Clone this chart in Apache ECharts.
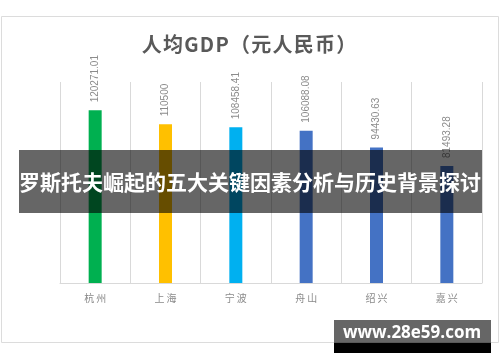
<!DOCTYPE html>
<html>
<head>
<meta charset="utf-8">
<script src="https://cdn.jsdelivr.net/npm/echarts@6/dist/echarts.min.js"></script>
<style>
html,body{margin:0;padding:0;background:#fff;}
#c{width:500px;height:362px;}
</style>
</head>
<body>
<div id="c"></div>
<script>
const categories = ['杭州', '上海', '宁波', '舟山', '绍兴', '嘉兴'];
const gdpValues = [120271.01, 110500, 108458.41, 106088.08, 94430.63, 81493.28];
const valueLabels = ['120271.01', '110500', '108458.41', '106088.08', '94430.63', '81493.28'];
const barColors = ['#00B050', '#FFC000', '#00B0F0', '#4472C4', '#4472C4', '#4472C4'];
const titleText = '人均GDP（元人民币）';
const bannerText = '罗斯托夫崛起的五大关键因素分析与历史背景探讨';
const watermarkText = 'www.28e59.com';

const chart = echarts.init(document.getElementById('c'), null, {renderer: 'canvas'});
const FONT = '"Noto Sans CJK SC", "Noto Sans", sans-serif';

chart.setOption({
  animation: false,
  backgroundColor: '#ffffff',
  title: {
    text: titleText.split('').join('\u200A'),
    left: 244,
    top: 29,
    textAlign: 'center',
    textStyle: {fontFamily: FONT, fontSize: 20, fontWeight: 'bold', color: '#595959'}
  },
  grid: {left: 60, right: 18, top: 82, bottom: 79},
  xAxis: {
    type: 'category',
    data: categories,
    boundaryGap: true,
    axisLine: {show: true, lineStyle: {color: '#d9d9d9', width: 1}},
    axisTick: {show: false},
    splitLine: {show: true, lineStyle: {color: '#d9d9d9', width: 1}},
    axisLabel: {
      margin: 10,
      fontFamily: FONT,
      fontSize: 10,
      color: '#8a8a8a',
      formatter: v => v.split('').join('\u2009')
    }
  },
  yAxis: {
    type: 'value',
    min: 0,
    max: 140000,
    show: false,
    splitLine: {show: false}
  },
  series: [{
    type: 'bar',
    barWidth: 13,
    data: gdpValues.map((v, i) => ({value: v, itemStyle: {color: barColors[i]}})),
    label: {
      show: true,
      position: 'top',
      rotate: 90,
      align: 'left',
      verticalAlign: 'middle',
      distance: 8,
      fontFamily: '"Liberation Sans", Arial, sans-serif',
      fontSize: 10,
      color: '#8c8c8c',
      formatter: p => valueLabels[p.dataIndex]
    }
  }],
  graphic: [
    {
      type: 'rect', silent: true, z: 0,
      shape: {x: 1.5, y: 16.5, width: 497, height: 326},
      style: {fill: 'none', stroke: '#dcdcdc', lineWidth: 1}
    },
    {
      type: 'rect', z: 100,
      shape: {x: 19, y: 150, width: 463, height: 63},
      style: {fill: 'rgba(0,0,0,0.6)'}
    },
    {
      type: 'text', z: 101,
      x: 250, y: 182,
      style: {
        text: bannerText,
        fill: '#ffffff',
        font: 'bold 21px "Noto Sans CJK SC", sans-serif',
        textAlign: 'center',
        textVerticalAlign: 'middle'
      }
    },
    {
      type: 'rect', z: 100,
      shape: {x: 334, y: 320, width: 157, height: 23},
      style: {fill: 'rgba(0,0,0,0.6)'}
    },
    {
      type: 'rect', z: 100,
      shape: {x: 334, y: 343, width: 157, height: 10},
      style: {fill: '#000000'}
    },
    {
      type: 'text', z: 101,
      x: 412, y: 333,
      style: {
        text: watermarkText,
        fill: '#ffffff',
        font: 'bold 17px "Open Sans", "DejaVu Sans", sans-serif',
        textAlign: 'center',
        textVerticalAlign: 'middle'
      }
    }
  ]
});
</script>
</body>
</html>
